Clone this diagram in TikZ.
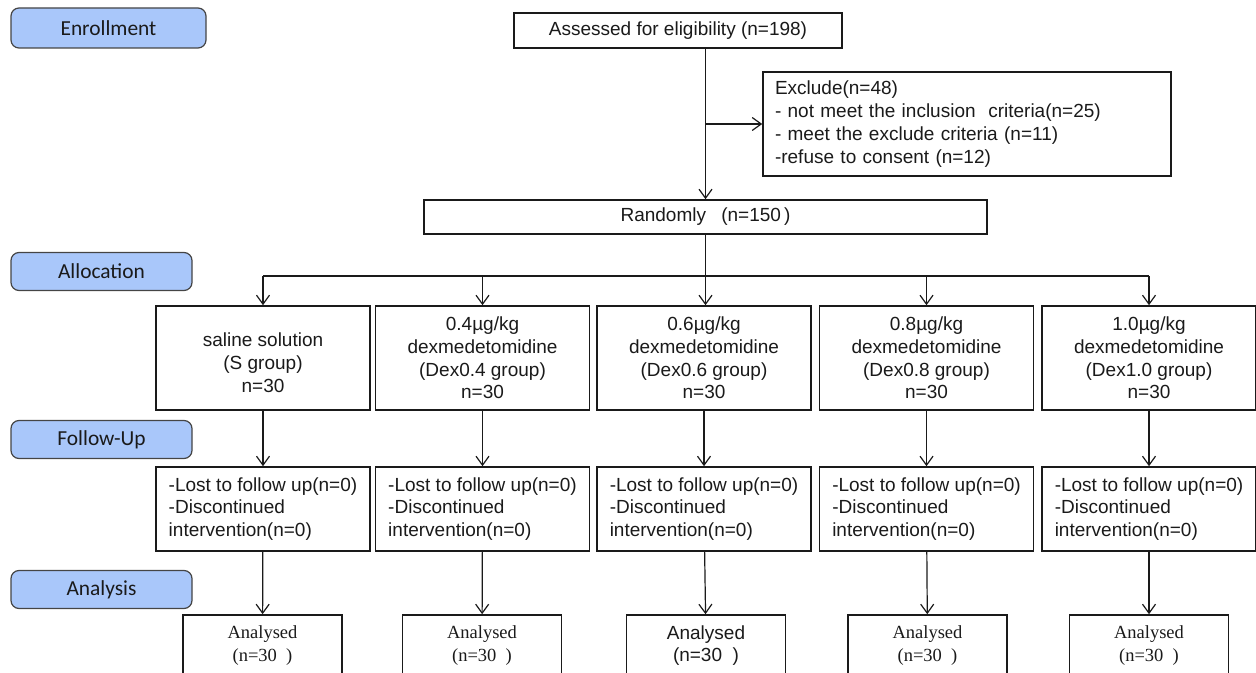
\documentclass[tikz,border=0pt]{standalone}
\usepackage{fontspec}
\setmainfont{Liberation Sans}
\newfontfamily\stagefont{Carlito}
\newfontfamily\timesfont{Liberation Serif}
\usetikzlibrary{arrows.meta,positioning,calc}
\definecolor{StageBlue}{HTML}{A9C7FA}
\definecolor{StageEdge}{HTML}{454545}
\definecolor{FlowInk}{HTML}{1A1A1A}

\begin{document}
\begin{tikzpicture}[x=0.5pt, y=-0.5pt,
  stage/.style={draw=StageEdge, line width=0.6pt, rounded corners=4pt, fill=StageBlue,
                minimum width=90.5pt, minimum height=19pt, inner sep=0pt,
                font=\stagefont\fontsize{10.7}{12}\selectfont, text=FlowInk},
  flowbox/.style={draw=FlowInk, line width=0.8pt, inner sep=0pt,
                  font=\fontsize{9.5}{11.4}\selectfont, text=FlowInk},
  groupbox/.style={flowbox, minimum width=107pt, minimum height=52pt, align=center},
  lossbox/.style={flowbox, minimum width=107pt, minimum height=42pt, align=left},
  resultbox/.style={flowbox, minimum width=79.5pt, minimum height=30.5pt, align=center,
                    font=\timesfont\fontsize{9.25}{11.5}\selectfont},
  flow/.style={-{Straight Barb[length=4.5pt, width=6.5pt]}, line width=0.6pt, draw=FlowInk}
]
  \useasboundingbox (0,0) rectangle (1256,673);
  \clip (0,0) rectangle (1256,673);

  % Stage labels
  \node[stage, minimum width=97.5pt, minimum height=20pt] (enroll) at (108.5,28) {Enrollment};
  \node[stage] (alloc)    at (101.5,271.5) {Allocation};
  \node[stage] (followup) at (101.5,439.5) {Follow-Up};
  \node[stage] (analysis) at (101.5,589.5) {Analysis};

  % Enrollment
  \node[flowbox, minimum width=164pt, minimum height=17.5pt] (assess) at (678,30.5)
    {Assessed for eligibility (n=198)};
  \node[flowbox, minimum height=52pt, text width=192pt, inner xsep=6pt, align=left] (exclude) at (967,124)
    {Exclude(n=48)\\- not meet the inclusion~~criteria(n=25)\\- meet the exclude criteria (n=11)\\-refuse to consent (n=12)};
  \node[flowbox, minimum width=281.5pt, minimum height=17pt] (rand) at (705.5,217)
    {Randomly\hspace{0.8em}(n=150\,)};
  \coordinate (bus) at (0,276);

  % Allocation
  \node[groupbox] (g1) at (263,358)    {\mbox{}\\saline solution\\(S group)\\n=30};
  \node[groupbox] (g2) at (482.5,358)  {0.4µg/kg\\dexmedetomidine\\(Dex0.4 group)\\n=30};
  \node[groupbox] (g3) at (704,358)    {0.6µg/kg\\dexmedetomidine\\(Dex0.6 group)\\n=30};
  \node[groupbox] (g4) at (926.5,358)  {0.8µg/kg\\dexmedetomidine\\(Dex0.8 group)\\n=30};
  \node[groupbox] (g5) at (1149,358)   {1.0µg/kg\\dexmedetomidine\\(Dex1.0 group)\\n=30};

  % Follow-up
  \node[lossbox] (f1) at (263,509)   {-Lost to follow up(n=0)\\-Discontinued\\intervention(n=0)};
  \node[lossbox] (f2) at (482.5,509) {-Lost to follow up(n=0)\\-Discontinued\\intervention(n=0)};
  \node[lossbox] (f3) at (704,509)   {-Lost to follow up(n=0)\\-Discontinued\\intervention(n=0)};
  \node[lossbox] (f4) at (926.5,509) {-Lost to follow up(n=0)\\-Discontinued\\intervention(n=0)};
  \node[lossbox] (f5) at (1149,509)  {-Lost to follow up(n=0)\\-Discontinued\\intervention(n=0)};

  % Analysis
  \node[resultbox] (a1) at (262.5,645.5) {Analysed\\(n=30\ \ )};
  \node[resultbox] (a2) at (482,645.5)   {Analysed\\(n=30\ \ )};
  \node[resultbox, font=\fontsize{9.5}{11.4}\selectfont] (a3) at (706,645.5) {Analysed\\(n=30\ \ )};
  \node[resultbox] (a4) at (927.5,645.5) {Analysed\\(n=30\ \ )};
  \node[resultbox] (a5) at (1149,645.5)  {Analysed\\(n=30\ \ )};

  % Connectors
  \draw[flow] (assess.south -| rand.north) -- (rand.north);
  \draw[flow] (exclude.west -| rand.north) -- (exclude.west);
  \draw[line width=0.6pt, FlowInk] (g1.north |- bus) -- (g5.north |- bus);
  \draw[flow] (rand.south) -- (rand.south |- g3.north);
  \draw[flow] (g1.north |- bus) -- (g1.north);
  \draw[flow] (g2.north |- bus) -- (g2.north);
  \draw[flow] (g4.north |- bus) -- (g4.north);
  \draw[flow] (g5.north |- bus) -- (g5.north);

  \draw[flow] (g1) -- (f1);  \draw[flow] (f1) -- (a1);
  \draw[flow] (g2) -- (f2);  \draw[flow] (f2) -- (a2);
  \draw[flow] (g3) -- (f3);  \draw[flow] (f3) -- (a3);
  \draw[flow] (g4) -- (f4);  \draw[flow] (f4) -- (a4);
  \draw[flow] (g5) -- (f5);  \draw[flow] (f5) -- (a5);
\end{tikzpicture}
\end{document}
